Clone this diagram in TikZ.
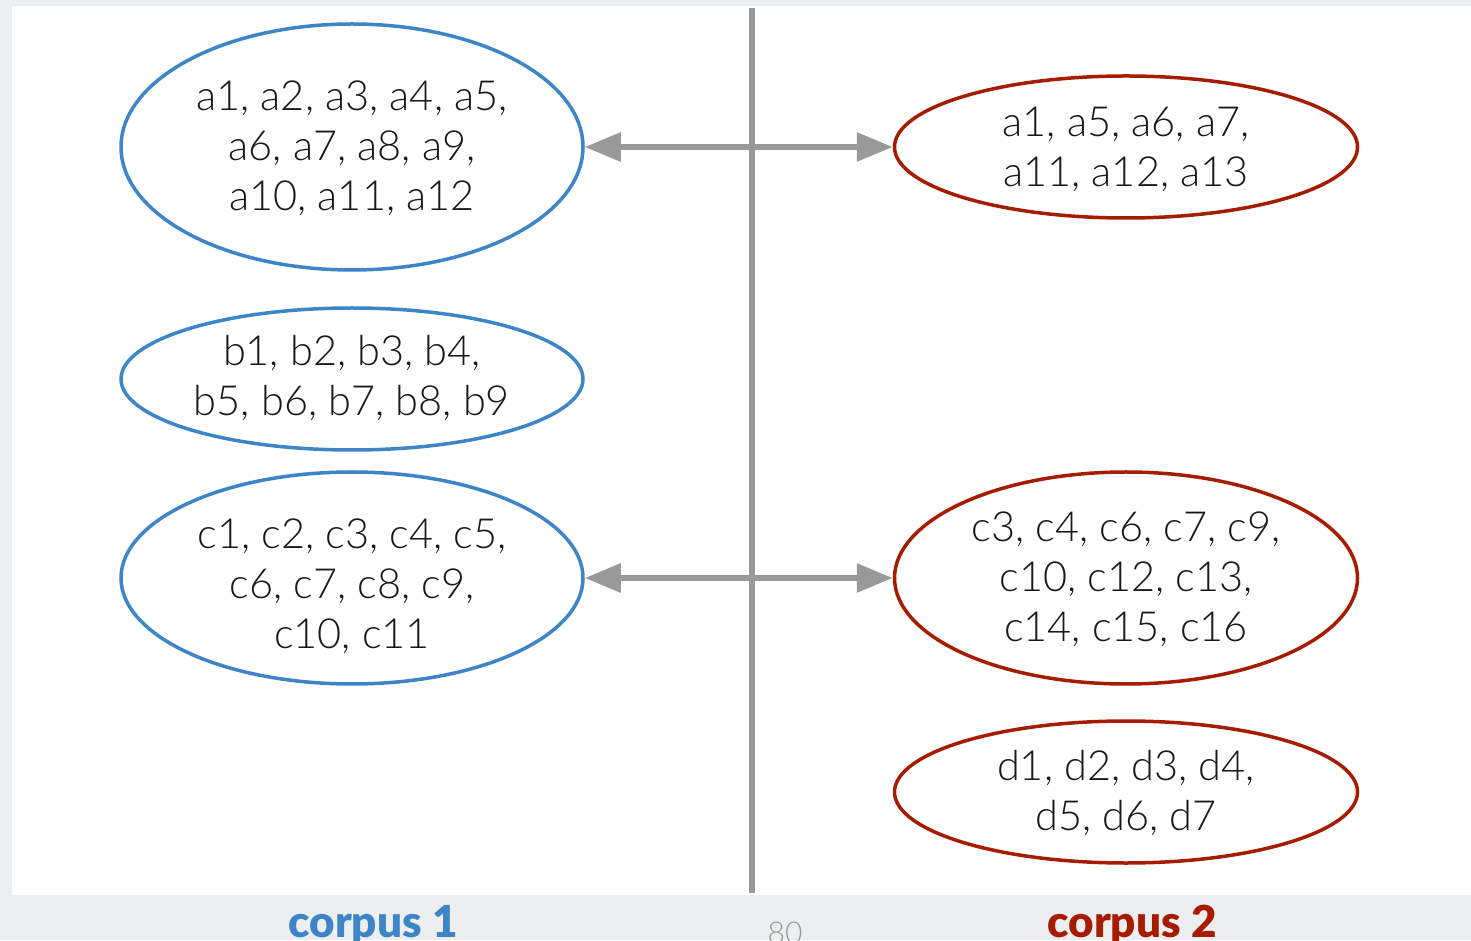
\documentclass[tikz,border=0pt]{standalone}
\usepackage{fontspec}
\setmainfont{Lato}[UprightFont=* Light, BoldFont=* Black]
\usetikzlibrary{arrows.meta,shapes.geometric}
\definecolor{pagegray}{HTML}{EDEEF0}
\definecolor{blueline}{HTML}{3D85C6}
\definecolor{redline}{HTML}{A61C00}
\definecolor{linkgray}{HTML}{999999}
\tikzset{
  blob/.style={ellipse, draw, line width=3.5pt, inner sep=0pt},
  left set/.style={blob, draw=blueline},
  right set/.style={blob, draw=redline},
  members/.style={align=center, inner sep=0pt, text=black!90,
    font=\fontsize{41.5}{50}\selectfont},
  link/.style={draw=linkgray, line width=6pt,
    -{Triangle[length=36pt,width=28pt]}},
  divider/.style={draw=linkgray, line width=6pt},
  corpuslabel/.style={font=\fontsize{44}{44}\selectfont\bfseries, anchor=base}
}
\begin{document}
\begin{tikzpicture}[x=1pt,y=1pt]
  % page and panel
  \fill[pagegray] (0,0) rectangle (1471,940);
  \fill[white] (12,45) rectangle (1471,934);
  \useasboundingbox (0,0) rectangle (1471,940);

  % vertical divider
  \coordinate (top) at (752,932);
  \coordinate (bottom) at (752,47);
  \draw[divider] (top) -- (bottom);

  % corpus 1 sets
  \node[left set, minimum width=462, minimum height=246] (A1) at (352,793) {};
  \node[members] (tA1) at (352,792) {a1, a2, a3, a4, a5,\\ a6, a7, a8, a9,\\ a10, a11, a12};
  \node[left set, minimum width=462, minimum height=142] (B1) at (352,561) {};
  \node[members] (tB1) at (352,562) {b1, b2, b3, b4,\\ b5, b6, b7, b8, b9};
  \node[left set, minimum width=462, minimum height=212] (C1) at (352,362) {};
  \node[members] (tC1) at (352,354) {c1, c2, c3, c4, c5,\\ c6, c7, c8, c9,\\ c10, c11};

  % corpus 2 sets
  \node[right set, minimum width=463, minimum height=142] (A2) at (1126,793) {};
  \node[members] (tA2) at (1126,791) {a1, a5, a6, a7,\\ a11, a12, a13};
  \node[right set, minimum width=463, minimum height=212] (C2) at (1126,362) {};
  \node[members] (tC2) at (1126,361) {c3, c4, c6, c7, c9,\\ c10, c12, c13,\\ c14, c15, c16};
  \node[right set, minimum width=463, minimum height=142] (D2) at (1126,148) {};
  \node[members] (tD2) at (1126,147) {d1, d2, d3, d4,\\ d5, d6, d7};

  % matching links
  \coordinate (mA) at (752,793);
  \coordinate (mC) at (752,362);
  \draw[link] (mA) -- (A1.east);
  \draw[link] (mA) -- (A2.west);
  \draw[link] (mC) -- (C1.east);
  \draw[link] (mC) -- (C2.west);

  % footer
  \node[corpuslabel, text=blueline] (lab1) at (373,3) {corpus 1};
  \node[corpuslabel, text=redline] (lab2) at (1132,3) {corpus 2};
  \node[font=\fontsize{30}{30}\selectfont, text=linkgray, anchor=base] (page) at (785,-3) {80};
\end{tikzpicture}
\end{document}
